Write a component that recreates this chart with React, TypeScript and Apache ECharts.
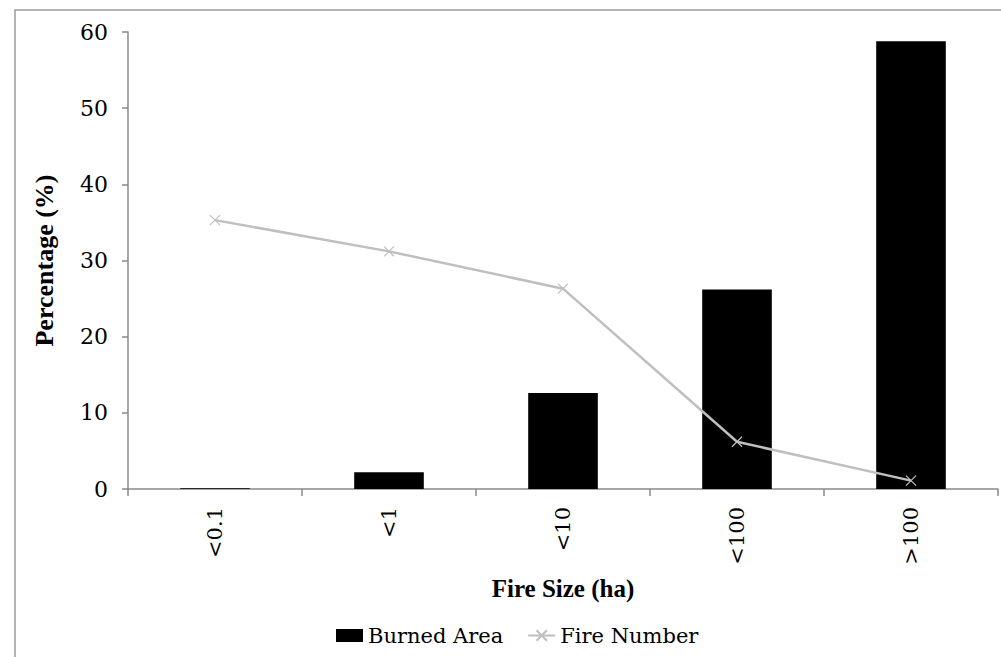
import React, { useEffect, useRef } from "react";
import * as echarts from "echarts";

const categories = ["<0.1", "<1", "<10", "<100", ">100"];
const burnedArea = [0.1, 2.2, 12.6, 26.2, 58.8];
const fireNumber = [35.3, 31.2, 26.3, 6.2, 1.1];
const yTicks = { min: 0, max: 60, interval: 10 };

const FONT = "'DejaVu Serif', 'Liberation Serif', serif";
const BOLD_FONT = "'Liberation Serif', 'DejaVu Serif', serif";

export default function App() {
  const ref = useRef<HTMLDivElement>(null);
  useEffect(() => {
    document.body.style.margin = "0";
    const chart = echarts.init(ref.current!, null, { renderer: "svg" });
    chart.setOption({
      animation: false,
      backgroundColor: "#ffffff",
      textStyle: { fontFamily: FONT },
      graphic: [
        {
          type: "rect",
          shape: { x: 15, y: 10, width: 1010, height: 670 },
          style: { fill: "none", stroke: "#9a9a9a", lineWidth: 1.5 },
          silent: true,
          z: 0,
        },
      ],
      grid: { left: 128, top: 32, right: 3, bottom: 168 },
      legend: {
        bottom: 6,
        left: 331,
        itemGap: 24,
        itemWidth: 27,
        itemHeight: 13,
        textStyle: { fontFamily: FONT, fontSize: 21, color: "#000" },
        data: [
          { name: "Burned Area", icon: "rect" },
          { name: "Fire Number" },
        ],
      },
      xAxis: {
        type: "category",
        data: categories,
        name: "Fire Size (ha)",
        nameLocation: "middle",
        nameGap: 87,
        nameTextStyle: { fontFamily: BOLD_FONT, fontSize: 25, fontWeight: "bold", color: "#000" },
        axisLine: { show: true, lineStyle: { color: "#898989", width: 1.5 } },
        axisTick: { show: true, alignWithLabel: false, length: 7, lineStyle: { color: "#898989", width: 1.5 } },
        axisLabel: { rotate: 90, margin: 18, fontSize: 21, color: "#000", fontFamily: FONT },
        splitLine: { show: false },
      },
      yAxis: {
        type: "value",
        min: yTicks.min,
        max: yTicks.max,
        interval: yTicks.interval,
        name: "Percentage (%)",
        nameLocation: "middle",
        nameGap: 71,
        nameTextStyle: { fontFamily: BOLD_FONT, fontSize: 26, fontWeight: "bold", color: "#000" },
        axisLine: { show: true, lineStyle: { color: "#898989", width: 1.5 } },
        axisTick: { show: true, inside: false, length: 6, lineStyle: { color: "#898989", width: 1.5 } },
        axisLabel: { margin: 20, fontSize: 22, color: "#000", fontFamily: FONT },
        splitLine: { show: false },
      },
      series: [
        {
          name: "Burned Area",
          type: "bar",
          data: burnedArea,
          barWidth: "40%",
          itemStyle: { color: "#000000" },
        },
        {
          name: "Fire Number",
          type: "line",
          data: fireNumber,
          symbol: "path://M0,0L10,10M10,0L0,10",
          symbolSize: 10,
          lineStyle: { color: "#BFBFBF", width: 2.5 },
          itemStyle: { color: "#BFBFBF", borderColor: "#BFBFBF", borderWidth: 1.2 },
        },
      ],
    });
    return () => chart.dispose();
  }, []);
  return <div ref={ref} style={{ width: 1001, height: 657 }} />;
}
